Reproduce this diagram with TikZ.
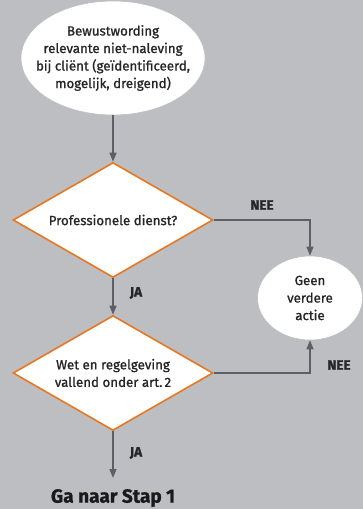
\documentclass[tikz,border=0pt]{standalone}
\usepackage{fontspec}
\setmainfont{Fira Sans}[FakeBold=1.1]
\usetikzlibrary{shapes.geometric,arrows.meta}
\definecolor{bg}{RGB}{189,190,193}
\definecolor{orng}{RGB}{232,119,34}
\definecolor{arr}{RGB}{92,96,102}
\begin{document}
\begin{tikzpicture}[x=1pt,y=-1pt,
  every node/.style={font=\fontsize{13.3}{17.5}\selectfont, text=black!85},
  oval/.style={ellipse, fill=white, draw=black!25, line width=0.6pt, align=center, inner sep=0pt},
  choice/.style={diamond, aspect=1.74, fill=white, draw=orng, line width=1.6pt, align=center, minimum width=200pt, minimum height=115pt, inner sep=0pt},
  conn/.style={draw=arr, line width=1.3pt, -{Triangle[length=9pt,width=7pt]}},
  lbl/.style={font=\fontsize{13.5}{15}\selectfont\bfseries, text=black!85}]
\fill[bg] (0,0) rectangle (363,509);
\useasboundingbox (0,0) rectangle (363,509);
\node[oval, inner sep=-12pt, minimum width=184pt, minimum height=114pt] (start) at (113,58)
  {Bewustwording\\relevante niet-naleving\\bij cliënt (geïdentificeerd,\\mogelijk, dreigend)};
\node[choice] (d1) at (113,220) {Professionele dienst?};
\node[choice] (d2) at (113,373) {Wet en regelgeving\\vallend onder art.\,2};
\node[oval, minimum width=105pt, minimum height=84pt] (geen) at (310,298) {Geen\\verdere\\actie};
\node[font=\fontsize{19}{22}\selectfont\bfseries, text=black!90] (ga) at (113,498) {Ga naar Stap 1};
\coordinate (end) at (113,478);
\draw[conn] (start.south) -- (d1.north);
\draw[conn] (d1.south) -- (d2.north);
\draw[conn] (d2.south) -- (end);
\draw[conn] (d1.east) -| (geen.north);
\draw[conn] (d2.east) -| (geen.south);
\node[lbl] (nee1) at (262,205) {NEE};
\node[lbl] (ja1) at (136,293) {JA};
\node[lbl] (nee2) at (339,365) {NEE};
\node[lbl] (ja2) at (136,453) {JA};
\end{tikzpicture}
\end{document}
